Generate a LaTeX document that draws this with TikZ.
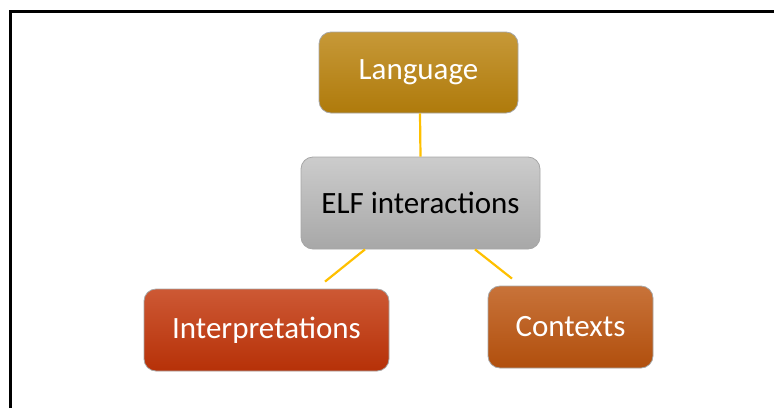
\documentclass[tikz,border=0pt]{standalone}
\usepackage{fontspec}
\setmainfont{Carlito}
\usepackage{tikz}

\definecolor{langcol}{RGB}{186,130,12}
\definecolor{elfcol}{RGB}{182,182,182}
\definecolor{interpcol}{RGB}{194,52,8}
\definecolor{ctxcol}{RGB}{188,84,14}
\definecolor{linkcol}{RGB}{255,192,0}

\begin{document}
\begin{tikzpicture}[x=1pt, y=-1pt,
    box/.style = {draw=gray!70, line width=0.8pt, rounded corners=12pt, font=\fontsize{31}{37}\selectfont, text=white, inner sep=0pt},
    link/.style = {draw=linkcol, line width=2.2pt}]
                \useasboundingbox (0,0) rectangle (774,408);
                \draw[line width=3pt] (10.5,408) -- (10.5,11) -- (774,11);

                \node[box, minimum width=199pt, minimum height=81pt, top color=langcol!82!white, middle color=langcol, bottom color=langcol!94!black] at (418.5, 72.5) (L) {Language};
                \node[box, minimum width=239pt, minimum height=92pt, text=black, top color=elfcol!70!white, middle color=elfcol, bottom color=elfcol!92!black] at (420.5, 203) (E) {ELF interactions};
                \node[box, minimum width=245pt, minimum height=82pt, top color=interpcol!82!white, middle color=interpcol, bottom color=interpcol!94!black] at (266.5, 330) (I) {Interpretations};
                \node[box, minimum width=165pt, minimum height=82pt, top color=ctxcol!82!white, middle color=ctxcol, bottom color=ctxcol!94!black] at (570.5, 327) (C) {Contexts};

                \draw[link] ([xshift=1.5pt]L.south) -- (E.north);
                \draw[link] ([xshift=-55.5pt]E.south) -- ([xshift=58.5pt, yshift=7pt]I.north);
                \draw[link] ([xshift=54.5pt]E.south) -- ([xshift=-58.5pt, yshift=7pt]C.north);
            \end{tikzpicture}
\end{document}
